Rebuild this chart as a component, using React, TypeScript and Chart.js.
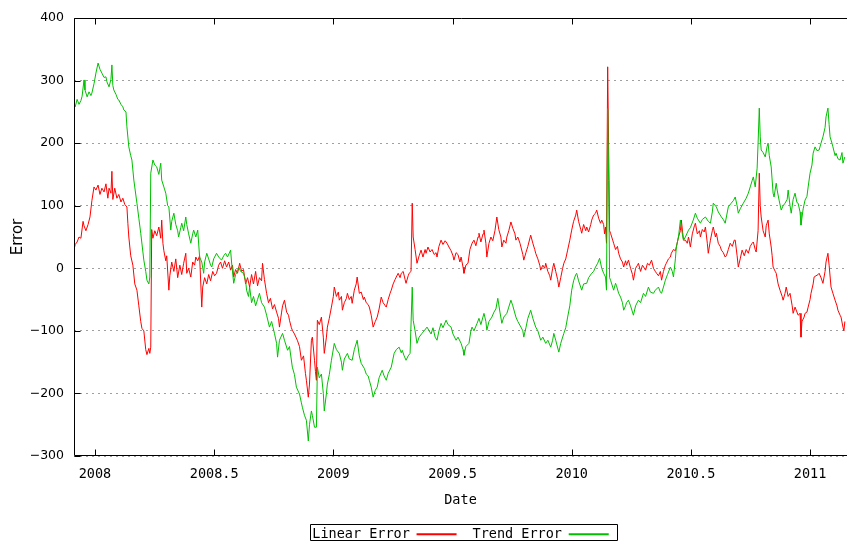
import { useEffect, useRef } from 'react';
import { Chart, registerables } from 'chart.js';

Chart.register(...registerables);

// Axis ranges and tick steps
const X_MIN = 2007.912;
const X_MAX = 2011.155;
const X_STEP = 0.5;
const Y_MIN = -300;
const Y_MAX = 400;
const Y_STEP = 100;

const seriesNames = ['Trend Error', 'Linear Error'];

// [date (fractional year), error]
const linearError: [number, number][] = [
  [2007.912, 30], [2007.917, 38], [2007.925, 42], [2007.933, 50], [2007.941, 48], [2007.95, 75],
  [2007.954, 68], [2007.962, 60], [2007.971, 70], [2007.979, 82], [2007.987, 108], [2007.996, 130],
  [2008.004, 125], [2008.013, 133], [2008.021, 118], [2008.029, 128], [2008.038, 122], [2008.046, 135],
  [2008.054, 112], [2008.059, 128], [2008.067, 120], [2008.071, 155], [2008.075, 110], [2008.083, 128],
  [2008.092, 112], [2008.1, 118], [2008.109, 106], [2008.117, 112], [2008.125, 102], [2008.134, 98],
  [2008.138, 72], [2008.142, 50], [2008.15, 20], [2008.159, 5], [2008.167, -25], [2008.176, -35],
  [2008.184, -60], [2008.192, -85], [2008.197, -96], [2008.205, -100], [2008.213, -130], [2008.218, -138],
  [2008.226, -128], [2008.23, -136], [2008.234, -126], [2008.238, 62], [2008.243, 48], [2008.251, 60],
  [2008.259, 52], [2008.268, 66], [2008.276, 48], [2008.28, 77], [2008.285, 40], [2008.289, 28],
  [2008.297, 12], [2008.301, 20], [2008.31, -35], [2008.314, -12], [2008.322, 10], [2008.331, -5],
  [2008.339, 15], [2008.347, -15], [2008.356, 5], [2008.364, -10], [2008.372, 8], [2008.381, 24],
  [2008.385, -8], [2008.393, 0], [2008.402, -14], [2008.41, 10], [2008.418, 5], [2008.423, 18],
  [2008.431, 12], [2008.439, 20], [2008.448, -62], [2008.452, -30], [2008.46, -15], [2008.469, -25],
  [2008.477, -10], [2008.485, -20], [2008.494, -5], [2008.502, -12], [2008.51, -8], [2008.519, 5],
  [2008.527, 10], [2008.535, 0], [2008.544, 12], [2008.552, 2], [2008.561, 10], [2008.569, -3],
  [2008.577, 5], [2008.582, -14], [2008.59, -2], [2008.598, -8], [2008.607, 8], [2008.615, -5],
  [2008.623, -2], [2008.632, -25], [2008.64, -15], [2008.649, -30], [2008.657, -10], [2008.665, -25],
  [2008.674, -5], [2008.682, -28], [2008.69, -15], [2008.699, -20], [2008.703, 8], [2008.711, -18],
  [2008.72, -40], [2008.728, -55], [2008.736, -48], [2008.745, -65], [2008.753, -58], [2008.762, -70],
  [2008.77, -80], [2008.774, -94], [2008.783, -70], [2008.787, -60], [2008.795, -51], [2008.804, -70],
  [2008.812, -75], [2008.816, -83], [2008.824, -95], [2008.828, -99], [2008.837, -105], [2008.849, -115],
  [2008.858, -125], [2008.866, -147], [2008.875, -140], [2008.883, -168], [2008.887, -179], [2008.895, -206],
  [2008.9, -185], [2008.908, -115], [2008.912, -110], [2008.921, -147], [2008.925, -165], [2008.929, -179],
  [2008.933, -83], [2008.941, -90], [2008.95, -78], [2008.958, -110], [2008.962, -136], [2008.971, -110],
  [2008.975, -94], [2008.983, -80], [2008.992, -62], [2009.0, -45], [2009.004, -30], [2009.013, -45],
  [2009.021, -38], [2009.025, -51], [2009.034, -45], [2009.038, -67], [2009.046, -55], [2009.055, -48],
  [2009.059, -40], [2009.067, -50], [2009.075, -45], [2009.079, -56], [2009.088, -35], [2009.096, -25],
  [2009.1, -14], [2009.109, -40], [2009.117, -38], [2009.126, -50], [2009.13, -46], [2009.138, -55],
  [2009.146, -58], [2009.151, -62], [2009.159, -75], [2009.167, -94], [2009.176, -85], [2009.184, -78],
  [2009.192, -65], [2009.201, -46], [2009.209, -55], [2009.218, -60], [2009.222, -62], [2009.23, -50],
  [2009.238, -40], [2009.243, -35], [2009.251, -25], [2009.259, -18], [2009.264, -14], [2009.272, -8],
  [2009.28, -15], [2009.285, -8], [2009.293, -5], [2009.301, -18], [2009.305, -24], [2009.314, -12],
  [2009.318, -8], [2009.326, -5], [2009.331, 104], [2009.335, 50], [2009.343, 30], [2009.351, 8],
  [2009.36, 20], [2009.368, 29], [2009.376, 18], [2009.385, 30], [2009.389, 24], [2009.397, 34],
  [2009.406, 26], [2009.414, 30], [2009.423, 22], [2009.431, 25], [2009.435, 18], [2009.443, 35],
  [2009.452, 45], [2009.46, 38], [2009.469, 44], [2009.477, 40], [2009.485, 34], [2009.494, 28],
  [2009.502, 20], [2009.506, 13], [2009.515, 25], [2009.523, 22], [2009.531, 10], [2009.536, 18],
  [2009.544, 2], [2009.548, -8], [2009.556, 5], [2009.565, 8], [2009.573, 30], [2009.582, 40],
  [2009.59, 45], [2009.598, 36], [2009.607, 50], [2009.611, 56], [2009.619, 42], [2009.628, 55],
  [2009.632, 61], [2009.64, 40], [2009.644, 18], [2009.653, 40], [2009.661, 50], [2009.669, 44],
  [2009.678, 60], [2009.686, 82], [2009.694, 62], [2009.703, 50], [2009.707, 34], [2009.715, 45],
  [2009.724, 40], [2009.728, 50], [2009.736, 60], [2009.745, 74], [2009.753, 64], [2009.762, 55],
  [2009.766, 45], [2009.774, 50], [2009.783, 40], [2009.787, 34], [2009.795, 22], [2009.799, 13],
  [2009.808, 25], [2009.816, 35], [2009.828, 53], [2009.837, 40], [2009.845, 30], [2009.849, 24],
  [2009.858, 15], [2009.866, 5], [2009.87, -3], [2009.879, 5], [2009.887, 0], [2009.891, 8],
  [2009.9, -5], [2009.908, -12], [2009.912, -19], [2009.92, 0], [2009.925, 8], [2009.933, -5],
  [2009.941, -18], [2009.946, -30], [2009.954, -15], [2009.962, 0], [2009.967, 8], [2009.975, 15],
  [2009.983, 29], [2009.992, 45], [2010.0, 61], [2010.008, 75], [2010.017, 85], [2010.021, 93],
  [2010.029, 75], [2010.038, 62], [2010.042, 56], [2010.05, 70], [2010.059, 60], [2010.063, 66],
  [2010.071, 58], [2010.08, 70], [2010.084, 77], [2010.092, 85], [2010.1, 88], [2010.105, 93],
  [2010.113, 80], [2010.121, 72], [2010.126, 77], [2010.134, 70], [2010.138, 55], [2010.142, 66],
  [2010.146, 40], [2010.151, 322], [2010.155, 194], [2010.159, 60], [2010.163, 56], [2010.172, 45],
  [2010.176, 40], [2010.184, 30], [2010.192, 35], [2010.197, 24], [2010.205, 15], [2010.213, 10],
  [2010.218, 2], [2010.226, 12], [2010.23, 5], [2010.238, 13], [2010.247, 0], [2010.255, -10],
  [2010.259, -19], [2010.268, 0], [2010.276, 5], [2010.28, 8], [2010.289, -5], [2010.297, 5],
  [2010.305, 0], [2010.31, -3], [2010.318, 8], [2010.326, 5], [2010.335, 13], [2010.343, 0],
  [2010.351, -5], [2010.356, -8], [2010.364, -12], [2010.372, -5], [2010.377, -19], [2010.385, -5],
  [2010.393, 5], [2010.397, 8], [2010.406, 15], [2010.414, 18], [2010.418, 24], [2010.427, 30],
  [2010.435, 28], [2010.439, 34], [2010.448, 50], [2010.456, 60], [2010.46, 77], [2010.469, 45],
  [2010.477, 45], [2010.485, 40], [2010.49, 50], [2010.498, 34], [2010.506, 55], [2010.515, 68],
  [2010.519, 72], [2010.527, 55], [2010.536, 60], [2010.54, 50], [2010.548, 62], [2010.556, 58],
  [2010.561, 66], [2010.569, 40], [2010.573, 24], [2010.582, 45], [2010.59, 60], [2010.594, 66],
  [2010.603, 50], [2010.607, 56], [2010.615, 40], [2010.623, 35], [2010.628, 29], [2010.636, 25],
  [2010.644, 18], [2010.649, 20], [2010.657, 30], [2010.665, 40], [2010.674, 35], [2010.682, 45],
  [2010.686, 45], [2010.694, 20], [2010.699, 2], [2010.707, 15], [2010.715, 29], [2010.724, 20],
  [2010.732, 30], [2010.741, 24], [2010.749, 35], [2010.757, 40], [2010.762, 42], [2010.77, 30],
  [2010.774, 26], [2010.782, 60], [2010.787, 152], [2010.791, 100], [2010.795, 82], [2010.803, 60],
  [2010.812, 50], [2010.816, 68], [2010.824, 77], [2010.829, 55], [2010.837, 34], [2010.841, 20],
  [2010.845, 2], [2010.854, -5], [2010.858, -8], [2010.866, -25], [2010.874, -35], [2010.883, -45],
  [2010.887, -51], [2010.895, -40], [2010.9, -30], [2010.908, -45], [2010.916, -40], [2010.925, -60],
  [2010.929, -72], [2010.937, -62], [2010.941, -62], [2010.95, -75], [2010.958, -72], [2010.962, -110],
  [2010.966, -85], [2010.975, -78], [2010.979, -72], [2010.987, -70], [2010.992, -62], [2011.0, -50],
  [2011.004, -40], [2011.013, -25], [2011.017, -14], [2011.025, -12], [2011.034, -10], [2011.038, -8],
  [2011.046, -15], [2011.054, -24], [2011.063, -5], [2011.067, 10], [2011.075, 24], [2011.08, 5],
  [2011.088, -30], [2011.096, -40], [2011.105, -51], [2011.113, -60], [2011.117, -67], [2011.126, -75],
  [2011.13, -78], [2011.138, -94], [2011.142, -100], [2011.146, -85],
];

const trendError: [number, number][] = [
  [2007.912, 265], [2007.917, 258], [2007.925, 270], [2007.933, 262], [2007.941, 268], [2007.946, 275],
  [2007.954, 301], [2007.958, 285], [2007.967, 274], [2007.975, 282], [2007.983, 276], [2007.987, 280],
  [2007.996, 295], [2008.004, 312], [2008.013, 328], [2008.021, 318], [2008.029, 312], [2008.038, 305],
  [2008.046, 306], [2008.05, 298], [2008.059, 290], [2008.067, 302], [2008.071, 325], [2008.075, 292],
  [2008.079, 285], [2008.088, 278], [2008.096, 270], [2008.1, 269], [2008.109, 262], [2008.117, 258],
  [2008.121, 253], [2008.13, 250], [2008.134, 226], [2008.142, 194], [2008.15, 180], [2008.155, 173],
  [2008.163, 141], [2008.176, 104], [2008.184, 80], [2008.192, 56], [2008.205, 13], [2008.213, -5],
  [2008.218, -19], [2008.226, -25], [2008.23, -14], [2008.234, 152], [2008.243, 173], [2008.251, 165],
  [2008.259, 162], [2008.268, 150], [2008.276, 168], [2008.28, 141], [2008.289, 130], [2008.297, 120],
  [2008.305, 100], [2008.31, 98], [2008.318, 61], [2008.322, 75], [2008.331, 88], [2008.339, 70],
  [2008.347, 60], [2008.351, 50], [2008.36, 65], [2008.364, 72], [2008.372, 60], [2008.381, 82],
  [2008.385, 70], [2008.393, 55], [2008.402, 40], [2008.41, 55], [2008.414, 61], [2008.423, 50],
  [2008.431, 61], [2008.439, 18], [2008.448, 10], [2008.456, -8], [2008.46, 10], [2008.469, 24],
  [2008.477, 15], [2008.485, 5], [2008.49, 2], [2008.498, 15], [2008.51, 24], [2008.519, 18],
  [2008.531, 13], [2008.54, 20], [2008.548, 24], [2008.556, 18], [2008.569, 29], [2008.573, 10],
  [2008.582, -24], [2008.59, -10], [2008.598, -5], [2008.603, 2], [2008.611, -5], [2008.623, -8],
  [2008.632, -20], [2008.636, -35], [2008.644, -45], [2008.649, -30], [2008.657, -55], [2008.665, -45],
  [2008.674, -60], [2008.682, -50], [2008.69, -40], [2008.699, -55], [2008.711, -62], [2008.72, -75],
  [2008.732, -94], [2008.741, -85], [2008.753, -104], [2008.762, -120], [2008.766, -142], [2008.774, -115],
  [2008.787, -104], [2008.795, -115], [2008.808, -131], [2008.816, -125], [2008.828, -158], [2008.837, -170],
  [2008.845, -190], [2008.858, -201], [2008.866, -215], [2008.87, -222], [2008.879, -235], [2008.887, -243],
  [2008.895, -276], [2008.9, -250], [2008.908, -228], [2008.912, -235], [2008.921, -254], [2008.929, -254],
  [2008.933, -158], [2008.941, -175], [2008.95, -169], [2008.958, -200], [2008.962, -228], [2008.971, -200],
  [2008.975, -185], [2008.983, -170], [2008.992, -147], [2009.004, -120], [2009.013, -130], [2009.025, -136],
  [2009.034, -150], [2009.038, -163], [2009.046, -145], [2009.059, -136], [2009.067, -145], [2009.079, -147],
  [2009.088, -130], [2009.1, -115], [2009.109, -140], [2009.117, -152], [2009.13, -160], [2009.138, -169],
  [2009.146, -172], [2009.151, -179], [2009.159, -190], [2009.167, -206], [2009.176, -195], [2009.184, -190],
  [2009.192, -175], [2009.205, -163], [2009.213, -172], [2009.222, -179], [2009.23, -168], [2009.243, -158],
  [2009.255, -136], [2009.264, -130], [2009.276, -126], [2009.285, -135], [2009.289, -131], [2009.297, -140],
  [2009.305, -147], [2009.314, -140], [2009.322, -136], [2009.331, -30], [2009.335, -83], [2009.343, -100],
  [2009.351, -120], [2009.36, -110], [2009.372, -104], [2009.381, -100], [2009.393, -94], [2009.402, -100],
  [2009.41, -105], [2009.418, -95], [2009.427, -110], [2009.435, -115], [2009.443, -100], [2009.452, -88],
  [2009.46, -95], [2009.473, -83], [2009.481, -90], [2009.494, -94], [2009.502, -105], [2009.515, -115],
  [2009.523, -110], [2009.536, -120], [2009.544, -130], [2009.548, -139], [2009.556, -125], [2009.569, -120],
  [2009.577, -100], [2009.582, -94], [2009.59, -100], [2009.603, -88], [2009.611, -80], [2009.619, -90],
  [2009.632, -72], [2009.64, -85], [2009.644, -99], [2009.653, -85], [2009.665, -78], [2009.674, -70],
  [2009.682, -65], [2009.69, -48], [2009.699, -70], [2009.707, -88], [2009.715, -78], [2009.728, -72],
  [2009.736, -62], [2009.745, -51], [2009.753, -60], [2009.766, -78], [2009.774, -85], [2009.787, -94],
  [2009.795, -100], [2009.799, -110], [2009.808, -95], [2009.816, -80], [2009.828, -67], [2009.837, -80],
  [2009.849, -94], [2009.858, -100], [2009.87, -115], [2009.879, -110], [2009.891, -120], [2009.9, -115],
  [2009.912, -126], [2009.92, -115], [2009.925, -104], [2009.933, -115], [2009.946, -134], [2009.954, -120],
  [2009.967, -104], [2009.975, -95], [2009.983, -78], [2009.992, -60], [2010.0, -35], [2010.008, -20],
  [2010.017, -10], [2010.021, -8], [2010.029, -20], [2010.042, -35], [2010.05, -25], [2010.063, -24],
  [2010.071, -15], [2010.084, -8], [2010.092, -5], [2010.1, 2], [2010.109, 8], [2010.117, 16],
  [2010.126, 0], [2010.134, -8], [2010.142, -14], [2010.146, -35], [2010.151, 255], [2010.155, 140],
  [2010.159, -15], [2010.163, -19], [2010.172, -30], [2010.176, -35], [2010.184, -24], [2010.188, -28],
  [2010.197, -40], [2010.205, -46], [2010.213, -55], [2010.218, -67], [2010.226, -60], [2010.23, -55],
  [2010.238, -51], [2010.247, -60], [2010.259, -75], [2010.268, -60], [2010.28, -51], [2010.289, -55],
  [2010.301, -40], [2010.31, -45], [2010.322, -30], [2010.33, -38], [2010.343, -40], [2010.351, -35],
  [2010.364, -30], [2010.372, -38], [2010.377, -40], [2010.385, -30], [2010.393, -19], [2010.402, -10],
  [2010.414, 2], [2010.422, -5], [2010.427, -14], [2010.435, 15], [2010.439, 34], [2010.448, 50],
  [2010.456, 77], [2010.464, 55], [2010.469, 45], [2010.477, 50], [2010.49, 61], [2010.498, 65],
  [2010.51, 77], [2010.519, 88], [2010.527, 80], [2010.54, 72], [2010.548, 78], [2010.561, 82],
  [2010.573, 75], [2010.582, 72], [2010.59, 90], [2010.594, 104], [2010.607, 98], [2010.615, 90],
  [2010.628, 82], [2010.636, 78], [2010.644, 72], [2010.653, 90], [2010.657, 98], [2010.669, 104],
  [2010.678, 108], [2010.686, 114], [2010.694, 100], [2010.699, 88], [2010.707, 95], [2010.72, 104],
  [2010.732, 112], [2010.741, 120], [2010.749, 130], [2010.757, 140], [2010.762, 146], [2010.77, 130],
  [2010.778, 160], [2010.782, 200], [2010.787, 256], [2010.791, 210], [2010.795, 189], [2010.803, 185],
  [2010.812, 178], [2010.82, 195], [2010.824, 200], [2010.829, 180], [2010.837, 162], [2010.845, 120],
  [2010.849, 114], [2010.858, 136], [2010.862, 125], [2010.87, 109], [2010.879, 93], [2010.887, 100],
  [2010.895, 104], [2010.904, 110], [2010.908, 125], [2010.916, 100], [2010.921, 88], [2010.929, 110],
  [2010.937, 120], [2010.945, 105], [2010.95, 104], [2010.958, 90], [2010.962, 69], [2010.971, 95],
  [2010.979, 109], [2010.987, 115], [2010.992, 130], [2011.0, 152], [2011.008, 165], [2011.013, 184],
  [2011.021, 194], [2011.029, 188], [2011.038, 189], [2011.046, 200], [2011.054, 210], [2011.063, 225],
  [2011.067, 242], [2011.075, 256], [2011.08, 230], [2011.084, 210], [2011.092, 200], [2011.096, 194],
  [2011.105, 180], [2011.109, 184], [2011.117, 175], [2011.126, 173], [2011.134, 185], [2011.138, 168],
  [2011.146, 178],
];

const MONO = 'DejaVu Sans Mono';
const SANS = 'DejaVu Sans';

const framePlugin = {
  id: 'gnuplotFrame',
  afterDraw(chart: any) {
    const { ctx, chartArea } = chart;
    const left = Math.round(chartArea.left) + 0.5;
    const top = Math.round(chartArea.top) + 0.5;
    const bottom = Math.round(chartArea.bottom) - 0.5;
    const right = chartArea.right + 2;
    ctx.save();
    ctx.setLineDash([]);
    ctx.strokeStyle = '#000';
    ctx.lineWidth = 1;
    ctx.beginPath();
    ctx.moveTo(right, top);
    ctx.lineTo(left, top);
    ctx.lineTo(left, bottom);
    ctx.lineTo(right, bottom);
    // inward tick marks
    const xs = chart.scales.x;
    xs.ticks.forEach((t: any) => {
      const px = Math.round(xs.getPixelForValue(t.value)) + 0.5;
      ctx.moveTo(px, bottom);
      ctx.lineTo(px, bottom - 6);
      ctx.moveTo(px, top);
      ctx.lineTo(px, top + 6);
    });
    const ys = chart.scales.y;
    ys.ticks.forEach((t: any) => {
      const py = Math.round(ys.getPixelForValue(t.value)) + 0.5;
      ctx.moveTo(left, py);
      ctx.lineTo(left + 6, py);
    });
    ctx.stroke();
    // legend box
    const hb = chart.legend?.legendHitBoxes || [];
    if (hb.length) {
      const minL = Math.min(...hb.map((h: any) => h.left));
      const maxR = Math.max(...hb.map((h: any) => h.left + h.width));
      const t0 = hb[0].top;
      const x1 = Math.round(minL - 2) + 0.5;
      const x2 = Math.round(maxR + 8) + 0.5;
      const y1 = Math.round(t0 - 4) + 0.5;
      const y2 = 540.5;
      ctx.beginPath();
      ctx.rect(x1, y1, x2 - x1, y2 - y1);
      ctx.stroke();
    }
    ctx.restore();
  },
};

export default function App() {
  const ref = useRef<HTMLCanvasElement>(null);

  useEffect(() => {
    document.body.style.margin = '0';
    document.body.style.overflow = 'hidden';
    const canvas = ref.current;
    if (!canvas) return;
    const chart = new Chart(canvas, {
      type: 'line',
      data: {
        datasets: [
          {
            label: seriesNames[0],
            data: trendError.map(([x, y]) => ({ x, y })),
            borderColor: '#00c000',
            backgroundColor: '#00c000',
            borderWidth: 1,
            pointRadius: 0,
            tension: 0,
            fill: false,
          },
          {
            label: seriesNames[1],
            data: linearError.map(([x, y]) => ({ x, y })),
            borderColor: '#ff0000',
            backgroundColor: '#ff0000',
            borderWidth: 1,
            pointRadius: 0,
            tension: 0,
            fill: false,
          },
        ],
      },
      options: {
        animation: false,
        responsive: false,
        devicePixelRatio: 1,
        layout: { padding: { top: 18, left: 0, right: 0, bottom: 0 } },
        plugins: {
          tooltip: { enabled: false },
          legend: {
            position: 'bottom',
            fullSize: false,
            rtl: true,
            align: 'center',
            labels: {
              usePointStyle: true,
              pointStyle: 'line',
              pointStyleWidth: 40,
              padding: 16,
              color: '#000',
              font: { family: MONO, size: 13.5 },
              generateLabels: (c: any) =>
                Chart.defaults.plugins.legend.labels
                  .generateLabels(c)
                  .map((l: any) => ({ ...l, lineWidth: 2, pointStyle: 'line' })),
            },
          },
        },
        scales: {
          x: {
            type: 'linear',
            min: X_MIN,
            max: X_MAX,
            afterFit: (s: any) => {
              s.height = 55.5;
            },
            grid: { display: false, drawTicks: false },
            border: { display: false },
            ticks: {
              stepSize: X_STEP,
              includeBounds: false,
              autoSkip: false,
              maxRotation: 0,
              padding: 10,
              color: '#000',
              font: { family: MONO, size: 13.5 },
              callback: (v: any) => String(Math.round(Number(v) * 10) / 10),
            },
            title: {
              display: true,
              text: 'Date',
              color: '#000',
              font: { family: MONO, size: 13.5 },
              padding: { top: 0, bottom: 3.4 },
            },
          },
          y: {
            min: Y_MIN,
            max: Y_MAX,
            afterFit: (s: any) => {
              s.width = 74;
            },
            grid: { color: '#a0a0a0', lineWidth: 1, drawTicks: false },
            border: { display: false, dash: [2, 4] },
            ticks: {
              stepSize: Y_STEP,
              padding: 10,
              color: '#000',
              font: { family: SANS, size: 12.5 },
              callback: (v: any) => {
                const n = Number(v);
                return n < 0 ? '\u2212' + Math.abs(n) : String(n);
              },
            },
            title: {
              display: true,
              text: 'Error',
              color: '#000',
              font: { family: SANS, size: 15 },
              padding: { top: 9, bottom: 0 },
            },
          },
        },
      },
      plugins: [framePlugin],
    });
    return () => chart.destroy();
  }, []);

  return (
    <div style={{ position: 'fixed', left: 0, top: 0, width: 847, height: 551, background: '#fff' }}>
      <canvas ref={ref} width={847} height={551} style={{ display: 'block', width: 847, height: 551 }} />
    </div>
  );
}
